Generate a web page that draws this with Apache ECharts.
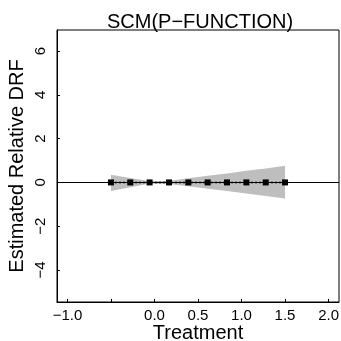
<!DOCTYPE html>
<html>
<head>
<meta charset="utf-8">
<script src="https://cdn.jsdelivr.net/npm/echarts@6/dist/echarts.min.js"></script>
<style>
  html, body { margin: 0; padding: 0; background: #ffffff; }
  #chart { width: 341px; height: 341px; }
</style>
</head>
<body>
<div id="chart"></div>
<script>
// treatment values and estimates
var treatment = [-0.5, -0.278, -0.056, 0.167, 0.389, 0.611, 0.833, 1.056, 1.278, 1.5]
var estimate = [0, 0, 0, 0, 0, 0, 0, 0, 0, 0]
var upper = [0.35, 0.20, 0.05, 0.07, 0.19, 0.30, 0.41, 0.53, 0.64, 0.76]
var lower = [-0.39, -0.22, -0.05, -0.07, -0.18, -0.29, -0.39, -0.50, -0.62, -0.73]
var xTicks = [-1, -0.5, 0, 0.5, 1, 1.5, 2]
var xLabels = [-1, 0, 0.5, 1, 1.5, 2]
var yTicks = [-4, -2, 0, 2, 4, 6]

var font = 'Liberation Sans, Arial, sans-serif'
var minus = function (s) { return String(s).replace('-', '\u2212') }

var chart = echarts.init(document.getElementById('chart'))
chart.setOption({
    animation: false,
    backgroundColor: '#ffffff',
    title: {
        text: 'SCM(P\u2212FUNCTION)',
        left: 102,
        top: 7,
        textStyle: { fontFamily: font, fontSize: 20, fontWeight: 'normal', color: '#000' }
    },
    grid: {
        left: 57, top: 30, width: 282, height: 272,
        outerBoundsMode: 'none',
        show: true, borderColor: '#000', borderWidth: 1, backgroundColor: 'transparent'
    },
    xAxis: {
        type: 'value',
        min: -1.12, max: 2.12,
        name: 'Treatment',
        nameLocation: 'middle',
        nameGap: 21,
        nameMoveOverlap: false,
        nameTextStyle: { fontFamily: font, fontSize: 20, color: '#000' },
        axisLine: { show: true, onZero: false, lineStyle: { color: '#000', width: 1 } },
        axisTick: { show: true, inside: true, length: 3, customValues: xTicks, lineStyle: { color: '#000' } },
        axisLabel: {
            customValues: xLabels, margin: 6,
            fontFamily: font, fontSize: 15, color: '#000',
            formatter: function (v) { return minus(v.toFixed(1)) }
        },
        splitLine: { show: false }
    },
    yAxis: {
        type: 'value',
        min: -5.46, max: 6.96,
        name: 'Estimated Relative DRF',
        nameLocation: 'middle',
        nameGap: 30,
        nameMoveOverlap: false,
        nameTextStyle: { fontFamily: font, fontSize: 20, color: '#000' },
        axisLine: { show: true, onZero: false, lineStyle: { color: '#000', width: 1 } },
        axisTick: { show: true, inside: true, length: 3, customValues: yTicks, lineStyle: { color: '#000' } },
        axisLabel: {
            customValues: yTicks, rotate: 90, margin: 9,
            fontFamily: font, fontSize: 15, color: '#000',
            formatter: function (v) { return minus(v) }
        },
        splitLine: { show: false }
    },
    series: [
        {
            // confidence band as one polygon through the axis scales
            type: 'custom',
            silent: true,
            data: [0],
            renderItem: function (params, api) {
                var pts = []
                for (var i = 0; i < treatment.length; i++) pts.push(api.coord([treatment[i], upper[i]]))
                for (var j = treatment.length - 1; j >= 0; j--) pts.push(api.coord([treatment[j], lower[j]]))
                return {
                    type: 'polygon',
                    shape: { points: pts },
                    style: { fill: '#bebebe', stroke: null }
                }
            },
            z: 1
        },
        {
            type: 'line',
            data: treatment.map(function (x, i) { return [x, estimate[i]] }),
            symbol: 'rect',
            symbolSize: 6,
            itemStyle: { color: '#000' },
            lineStyle: { color: '#555', width: 2, type: [2, 2] },
            markLine: {
                silent: true,
                symbol: 'none',
                label: { show: false },
                lineStyle: { color: '#000', width: 1, type: 'solid' },
                data: [{ yAxis: 0 }]
            },
            z: 3
        }
    ]
})
</script>
</body>
</html>
